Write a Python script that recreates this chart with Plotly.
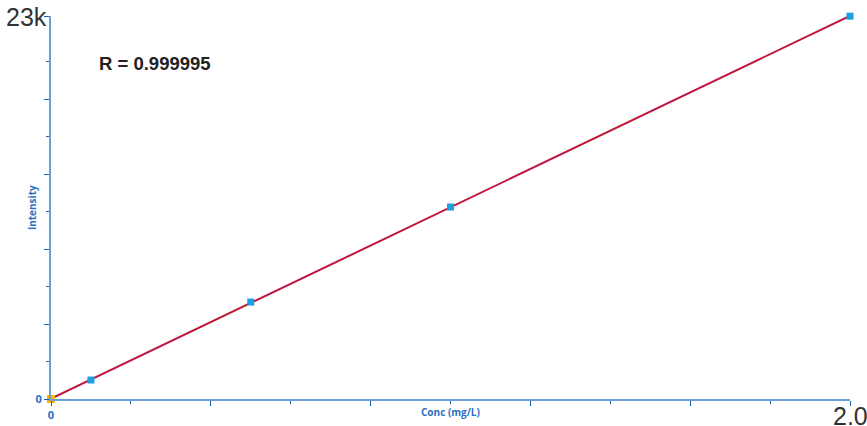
import numpy as np
import plotly.graph_objects as go

# Data
conc = [0.1, 0.5, 1.0, 2.0]
intensity = [1140, 5820, 11530, 22990]
blank_conc = [0.0]
blank_intensity = [0.0]
r_text = "R = 0.999995"
x_title = "Conc (mg/L)"
y_title = "Intensity"
title_text = "Cu 324.754 nm"

# Linear fit through the data (blank included)
xa = np.array(blank_conc + conc)
ya = np.array(blank_intensity + intensity)
slope, intercept = np.polyfit(xa, ya, 1)
fit_x = np.array([0.0, 2.0])
fit_y = slope * fit_x + intercept

axis_line = "#6b9fd6"
tick_col = "#1f5fb0"
lbl_col = "#2c6fc0"

fig = go.Figure()
fig.add_trace(go.Scatter(x=fit_x, y=fit_y, mode="lines",
                         line=dict(color="#c0163c", width=2), cliponaxis=False,
                         hoverinfo="skip", showlegend=False))
fig.add_trace(go.Scatter(x=conc, y=intensity, mode="markers",
                         marker=dict(symbol="square", size=7, color="#1a9fe0"),
                         cliponaxis=False, showlegend=False))
fig.add_trace(go.Scatter(x=blank_conc, y=blank_intensity, mode="markers",
                         marker=dict(symbol="square", size=8, color="#f2b705"),
                         cliponaxis=False, showlegend=False))

fig.update_layout(
    width=867, height=426,
    margin=dict(l=51, r=17, t=16, b=27, autoexpand=False),
    plot_bgcolor="white", paper_bgcolor="white",
    font=dict(family="Liberation Sans, Arial, sans-serif"),
)
fig.update_xaxes(
    range=[0, 2.0], showgrid=False, zeroline=False, automargin=False,
    showline=True, linecolor=axis_line, linewidth=2,
    ticks="outside", ticklen=5, tickwidth=1, tickcolor=tick_col,
    tickvals=[0, 0.4, 0.8, 1.2, 1.6, 2.0],
    ticktext=["<b>0</b>", "", "", "", "", ""],
    tickfont=dict(size=11, color=lbl_col, family="Open Sans, sans-serif"),
    minor=dict(tickvals=[0.2, 0.6, 1.0, 1.4, 1.8], ticks="outside", ticklen=3,
               tickcolor=tick_col, tickwidth=1),
)
fig.update_yaxes(
    range=[0, 23000], showgrid=False, zeroline=False, automargin=False,
    showline=True, linecolor=axis_line, linewidth=2,
    ticks="outside", ticklen=5, tickwidth=1, tickcolor=tick_col,
    tickvals=[0, 4500, 9000, 13500, 18000, 23000],
    ticktext=["<b>0</b>", "", "", "", "", ""],
    tickfont=dict(size=11, color=lbl_col, family="Open Sans, sans-serif"),
    minor=dict(tickvals=[2250, 6750, 11250, 15750, 20250], ticks="outside", ticklen=3,
               tickcolor=tick_col, tickwidth=1),
)

# axis titles
fig.add_annotation(x=0.5, y=-0.034, xref="paper", yref="paper", text="<b>" + x_title + "</b>",
                   showarrow=False, xanchor="center", yanchor="middle",
                   font=dict(size=10, color=lbl_col, family="Open Sans, sans-serif"))
fig.add_annotation(x=-0.0238, y=0.501, xref="paper", yref="paper", text="<b>" + y_title + "</b>",
                   showarrow=False, xanchor="center", yanchor="middle", textangle=-90,
                   font=dict(size=10, color=lbl_col, family="Open Sans, sans-serif"))

# axis end labels
fig.add_annotation(x=0, y=23000, xref="x", yref="y", text="23k", showarrow=False,
                   xanchor="right", yanchor="middle", xshift=-2, yshift=-1,
                   font=dict(size=25, color="#333333"))
fig.add_annotation(x=2.0, y=0, xref="x", yref="y", text="2.0", showarrow=False,
                   xanchor="center", yanchor="top", yshift=-1,
                   font=dict(size=25, color="#333333"))

fig.add_annotation(x=0.0576, y=0.875, xref="paper", yref="paper", text="<b>" + r_text + "</b>",
                   showarrow=False, xanchor="left", yanchor="middle",
                   font=dict(size=18.5, color="#222222"))
fig.add_annotation(x=0.534, y=1.0, xref="paper", yref="paper", text="<b>" + title_text + "</b>",
                   showarrow=False, xanchor="center", yanchor="bottom", yshift=12,
                   font=dict(size=24, color="#5bc3e0"))

fig.write_html("out.html", config={"displayModeBar": False},
               post_script="document.body.style.margin='0px';")
